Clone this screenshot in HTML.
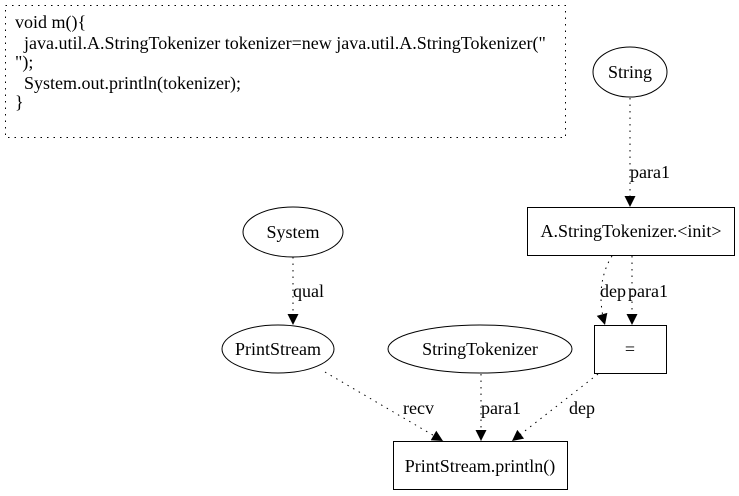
<!DOCTYPE html>
<html><head><meta charset="utf-8"><style>
html,body{margin:0;padding:0;background:#fff;}
svg{display:block;}
text{font-family:"Liberation Serif",serif;font-size:18px;fill:#000;white-space:pre;}
</style></head><body>
<svg width="739" height="496" viewBox="0 0 739 496" xmlns="http://www.w3.org/2000/svg">
<defs>
<marker id="a" viewBox="0 0 10 10" refX="10" refY="5" markerWidth="12" markerHeight="11" markerUnits="userSpaceOnUse" orient="auto">
<path d="M0,0 L10,5 L0,10 z" fill="#000"/>
</marker>
</defs>
<g fill="none" stroke="#000" stroke-width="1">
<rect x="5.5" y="5.5" width="560" height="132" stroke-dasharray="1.5,5"/>
<ellipse cx="630" cy="72" rx="37" ry="25"/>
<rect x="527.5" y="207.5" width="207" height="48"/>
<ellipse cx="293" cy="232" rx="50" ry="25"/>
<ellipse cx="278" cy="349" rx="56" ry="24"/>
<ellipse cx="480" cy="349" rx="92" ry="24"/>
<rect x="594.5" y="325.5" width="72" height="48"/>
<rect x="393.5" y="441.5" width="174" height="48"/>
<g stroke-dasharray="1.5,5">
<path d="M630,98 L630,207" marker-end="url(#a)"/>
<path d="M293,257 L293,325" marker-end="url(#a)"/>
<path d="M612,256 C600,275 598,300 605,325" marker-end="url(#a)"/>
<path d="M632,256 L632,325" marker-end="url(#a)"/>
<path d="M325,372 L443,441" marker-end="url(#a)"/>
<path d="M481,374 L481,441" marker-end="url(#a)"/>
<path d="M598,374 L512,441" marker-end="url(#a)"/>
</g>
</g>
<text x="15" y="28" xml:space="preserve">void m(){</text>
<text x="15" y="49" xml:space="preserve">  java.util.A.StringTokenizer tokenizer=new java.util.A.StringTokenizer("</text>
<text x="15" y="68" xml:space="preserve">");</text>
<text x="15" y="89" xml:space="preserve">  System.out.println(tokenizer);</text>
<text x="15" y="108" xml:space="preserve">}</text>
<text x="630" y="78" text-anchor="middle">String</text>
<text x="631" y="237" text-anchor="middle">A.StringTokenizer.&lt;init&gt;</text>
<text x="293" y="238" text-anchor="middle">System</text>
<text x="278" y="355" text-anchor="middle">PrintStream</text>
<text x="480" y="355" text-anchor="middle">StringTokenizer</text>
<text x="630" y="355" text-anchor="middle">=</text>
<text x="480" y="472" text-anchor="middle">PrintStream.println()</text>
<text x="630" y="178">para1</text>
<text x="293" y="297">qual</text>
<text x="600" y="297">dep</text>
<text x="628" y="297">para1</text>
<text x="403" y="414">recv</text>
<text x="481" y="414">para1</text>
<text x="569" y="414">dep</text>
</svg>
</body></html>
